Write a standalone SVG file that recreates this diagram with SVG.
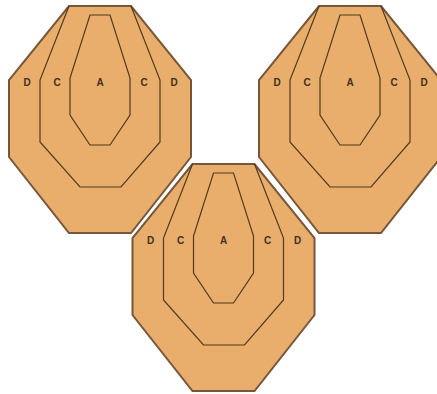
<svg xmlns="http://www.w3.org/2000/svg" xmlns:xlink="http://www.w3.org/1999/xlink" width="437" height="394" viewBox="0 0 437 394">
  <style>
    .outer { fill: #e9ae6b; stroke: #76573a; stroke-width: 2; stroke-linejoin: miter; }
    .ring { fill: none; stroke: #4f3a22; stroke-width: 1.2; stroke-linejoin: miter; }
    .lbl { font-family: "Liberation Sans", Arial, sans-serif; font-size: 10px; font-weight: bold; fill: #3f3020; text-anchor: middle; }
  </style>
  <defs>
    <g id="target-shape">
      <polygon class="outer" points="69,6 131,6 191,80 191,157 131,233 69,233 9,157 9,80"/>
      <polyline class="ring" points="69,6 40,80 40,142 80,187 121,187 160,142 160,80 131,6"/>
      <polygon class="ring" points="90,15 110,15 130,78 130,115 110,145 90,145 70,115 70,78"/>
    </g>
  </defs>
  <rect width="437" height="394" fill="#ffffff"/>
  <g id="target-left">
    <use xlink:href="#target-shape" href="#target-shape"/>
    <text class="lbl" x="27" y="86">D</text>
    <text class="lbl" x="57" y="86">C</text>
    <text class="lbl" x="100" y="86">A</text>
    <text class="lbl" x="144" y="86">C</text>
    <text class="lbl" x="174" y="86">D</text>
  </g>
  <g id="target-right" transform="translate(250,0)">
    <use xlink:href="#target-shape" href="#target-shape"/>
    <text class="lbl" x="27" y="86">D</text>
    <text class="lbl" x="57" y="86">C</text>
    <text class="lbl" x="100" y="86">A</text>
    <text class="lbl" x="144" y="86">C</text>
    <text class="lbl" x="174" y="86">D</text>
  </g>
  <g id="target-bottom" transform="translate(123.5,158)">
    <use xlink:href="#target-shape" href="#target-shape"/>
    <text class="lbl" x="27" y="86">D</text>
    <text class="lbl" x="57" y="86">C</text>
    <text class="lbl" x="100" y="86">A</text>
    <text class="lbl" x="144" y="86">C</text>
    <text class="lbl" x="174" y="86">D</text>
  </g>
  <g id="connectors"/>
</svg>
